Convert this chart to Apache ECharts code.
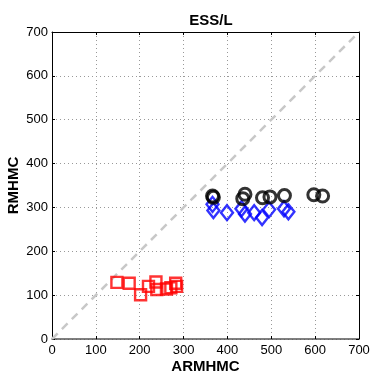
<!DOCTYPE html>
<html><head><meta charset="utf-8">
<script src="https://cdn.jsdelivr.net/npm/echarts@6/dist/echarts.min.js"></script>
<style>html,body{margin:0;padding:0;background:#fff}#c{width:374px;height:378px}</style>
</head><body><div id="c"></div>
<script>
const xTicks = [0,100,200,300,400,500,600,700];
const yTicks = [0,100,200,300,400,500,600,700];
const redSquares = [[148,129],[176,127],[202,101],[220,120],[237,130],[239,113],[261,114],[271,117],[282,127],[284,120]];
const blueDiamonds = [[366,307],[368,293],[399,288],[432,297],[440,285],[461,288],[479,277],[495,295],[529,297],[539,290]];
const blackCircles = [[366,326],[368,323],[435,320],[440,330],[480,322],[497,324],[530,327],[597,329],[617,326]];
const diagonal = [[0,0],[700,700]];

const font = 'Liberation Sans, Arial, sans-serif';
const chart = echarts.init(document.getElementById('c'), null, {renderer:'canvas'});
const axBase = {
  type:'value', min:0, max:700, interval:100,
  axisLine:{show:true,onZero:false,lineStyle:{color:'#000',width:1}},
  axisTick:{show:true,inside:true,length:3,lineStyle:{color:'#000'}},
  splitLine:{show:false}
};
chart.setOption({
  animation:false,
  title:{text:'ESS/L',left:206,top:8,textAlign:'center',textStyle:{fontFamily:font,fontSize:15,fontWeight:'bold',color:'#000'}},
  grid:{left:52,right:15,top:32,bottom:39,show:false,containLabel:false,outerBoundsMode:'none'},
  xAxis:[
    Object.assign({},axBase,{position:'bottom',
      axisLine:{show:true,onZero:false,lineStyle:{color:'#555',width:1.5}},
      axisLabel:{fontFamily:font,fontSize:13,color:'#000',margin:5,formatter:v=>xTicks.includes(v)?String(v):''},
      splitLine:{show:true,lineStyle:{color:'#999',type:[1,3],width:1}},
      name:'ARMHMC',nameLocation:'middle',nameGap:20,nameMoveOverlap:false,nameTextStyle:{fontFamily:font,fontSize:15,fontWeight:'bold',color:'#000'}}),
    Object.assign({},axBase,{position:'top',axisLabel:{show:false}})
  ],
  yAxis:[
    Object.assign({},axBase,{position:'left',
      axisLabel:{fontFamily:font,fontSize:13,color:'#000',margin:4,formatter:v=>yTicks.includes(v)?String(v):''},
      splitLine:{show:true,lineStyle:{color:'#999',type:[1,3],width:1}},
      name:'RMHMC',nameLocation:'middle',nameGap:31,nameMoveOverlap:false,nameTextStyle:{fontFamily:font,fontSize:15,fontWeight:'bold',color:'#000'}}),
    Object.assign({},axBase,{position:'right',axisLabel:{show:false}})
  ],
  series:[
    {type:'line',data:diagonal,symbol:'none',silent:true,lineStyle:{color:'#c8c8c8',width:2.5,type:[8,6]},z:1},
    {type:'scatter',data:redSquares,symbol:'rect',symbolSize:11,itemStyle:{color:'rgba(0,0,0,0)',borderColor:'#ff0000',borderWidth:2.4},z:3},
    {type:'scatter',data:blueDiamonds,symbol:'diamond',symbolSize:[12,15],itemStyle:{color:'rgba(0,0,0,0)',borderColor:'#0000ff',borderWidth:2.4},z:3},
    {type:'scatter',data:blackCircles,symbol:'circle',symbolSize:12,itemStyle:{color:'rgba(0,0,0,0)',borderColor:'#000',borderWidth:3},z:4}
  ]
});
</script></body></html>
